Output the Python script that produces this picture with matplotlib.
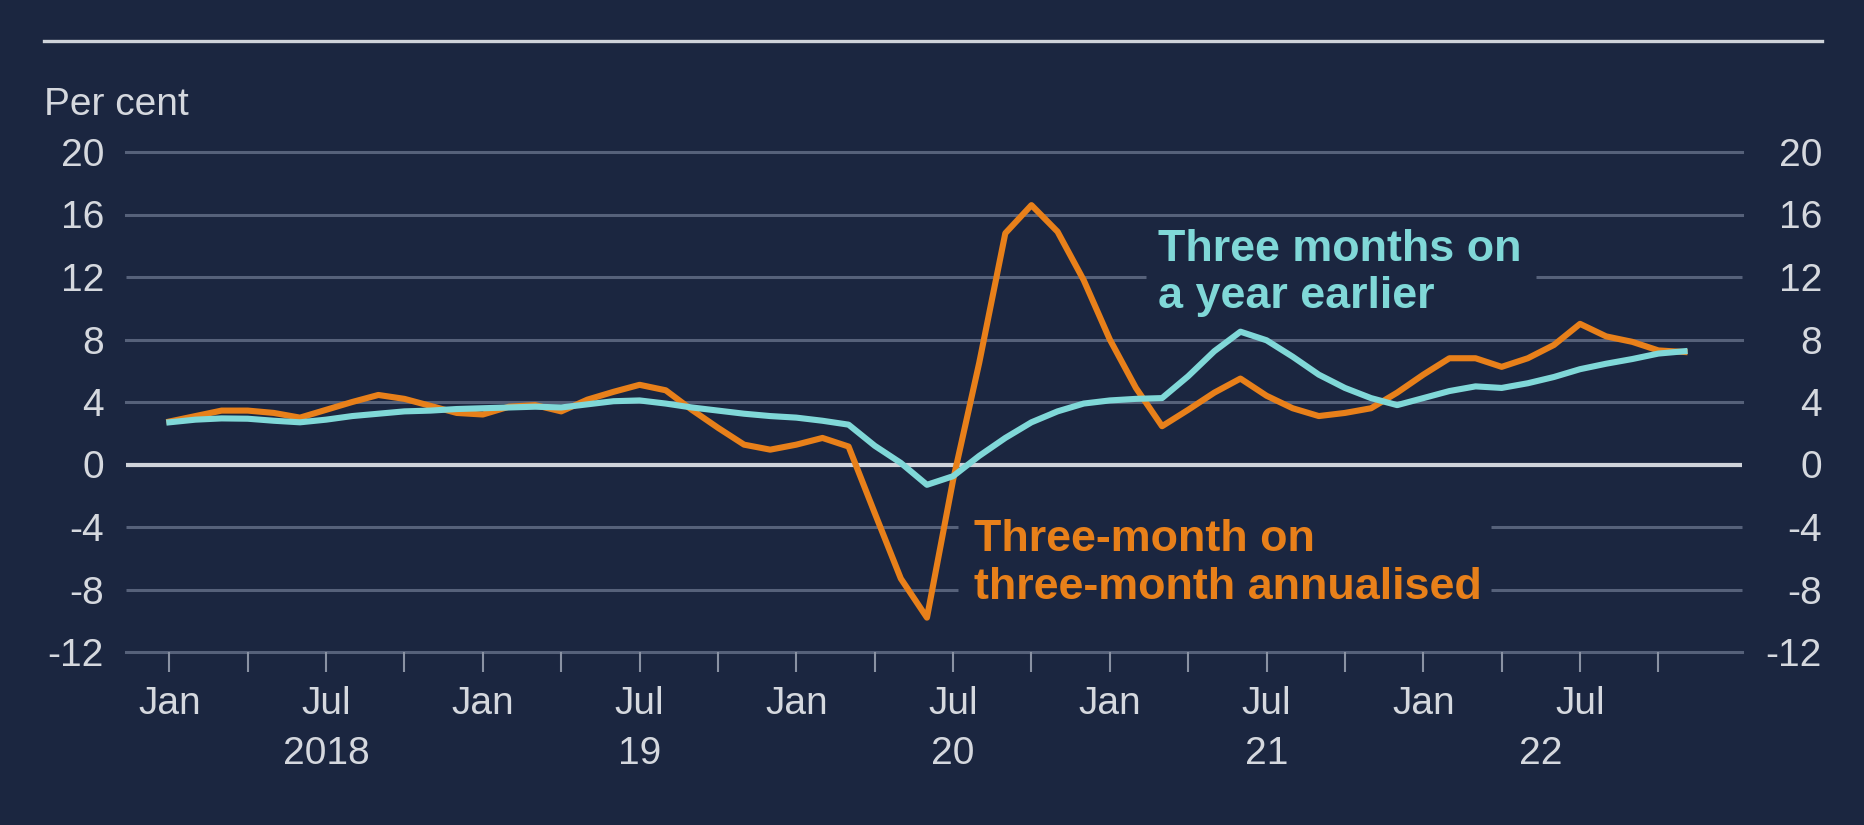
import matplotlib.pyplot as plt
from matplotlib.lines import Line2D
import numpy as np

plt.rcParams['font.family'] = ['Liberation Sans', 'DejaVu Sans']

# monthly data, Jan 2018 - Nov 2022
three_on_three = [2.75, 3.1, 3.45, 3.45, 3.3, 3.0, 3.5, 4.0, 4.45, 4.2, 3.75, 3.3,
                  3.2, 3.7, 3.8, 3.4, 4.15, 4.65, 5.1, 4.75, 3.5, 2.35, 1.27, 0.95,
                  1.27, 1.7, 1.15, -3.1, -7.3, -9.8, -1.0, 6.5, 14.8, 16.6, 14.9, 11.8,
                  8.0, 4.9, 2.45, 3.5, 4.6, 5.5, 4.4, 3.6, 3.1, 3.3, 3.6, 4.6,
                  5.75, 6.8, 6.8, 6.25, 6.8, 7.65, 9.0, 8.2, 7.85, 7.3, 7.2]
three_on_year = [2.7, 2.87, 2.95, 2.93, 2.8, 2.7, 2.87, 3.1, 3.25, 3.4, 3.45, 3.55,
                 3.6, 3.65, 3.7, 3.65, 3.85, 4.05, 4.1, 3.9, 3.65, 3.45, 3.25, 3.1,
                 3.0, 2.8, 2.55, 1.2, 0.1, -1.3, -0.75, 0.55, 1.7, 2.7, 3.4, 3.9,
                 4.1, 4.2, 4.25, 5.65, 7.25, 8.5, 7.95, 6.9, 5.75, 4.9, 4.25, 3.8,
                 4.25, 4.7, 5.0, 4.9, 5.2, 5.6, 6.1, 6.45, 6.75, 7.1, 7.25]
months = np.arange(len(three_on_three))

tick_months = list(range(0, 58, 3))
month_labels = ['Jan', '', 'Jul', ''] * 5
year_labels = ['2018', '19', '20', '21', '22']
year_pos = [6, 18, 30, 42, 52.5]
yticks = [-12, -8, -4, 0, 4, 8, 12, 16, 20]

bg = '#1b2640'
fg = '#d5d8de'
grid_col = '#56617a'
orange = '#e8801a'
cyan = '#80d8d8'

W, H = 1865, 825
XMIN, XMAX = -1.66, 60.2
fig = plt.figure(figsize=(W / 100, H / 100), dpi=100, facecolor=bg)
ax = fig.add_axes([126 / W, 1 - 652 / H, 1616 / W, 500 / H])
ax.set_facecolor(bg)
ax.set_xlim(XMIN, XMAX)
ax.set_ylim(-12, 20)
for s in ax.spines.values():
    s.set_visible(False)

# gridlines, broken where the labels sit
gaps = {12: (37.4, 52.3), -4: (30.2, 50.6), -8: (30.2, 50.6)}
for v in yticks:
    if v == 0:
        continue
    if v in gaps:
        a, b = gaps[v]
        ax.hlines([v, v], [XMIN, b], [a, XMAX], color=grid_col, lw=2.2, zorder=1, clip_on=False)
    else:
        ax.axhline(v, color=grid_col, lw=2.2, zorder=1, clip_on=False)
ax.axhline(0, color='#cfd3da', lw=3, zorder=1.5)

ax.plot(months, three_on_three, color=orange, lw=4.4, zorder=4)
ax.plot(months, three_on_year, color=cyan, lw=4.4, zorder=5)

# x axis
ax.set_xticks(tick_months)
ax.tick_params(axis='x', length=14.4, width=1.5, color='#8a92a3', labelbottom=False)
tr = ax.get_xaxis_transform()
for m, lab in zip(tick_months, month_labels):
    if lab:
        ax.text(m, -0.1234, lab, transform=tr, ha='center', va='baseline',
                fontsize=28, color=fg)
for p, lab in zip(year_pos, year_labels):
    ax.text(p, -0.2234, lab, transform=tr, ha='center', va='baseline',
            fontsize=28, color=fg)

# y axes (left and right)
ax.set_yticks(yticks)
ax.set_yticklabels([str(v) for v in yticks])
ax.tick_params(axis='y', length=0, pad=15.8, labelsize=28, labelcolor=fg)

ax2 = ax.twinx()
ax2.set_ylim(-12, 20)
ax2.set_yticks(yticks)
ax2.set_yticklabels([str(v) for v in yticks])
ax2.tick_params(axis='y', length=0, pad=57.6, labelsize=28, labelcolor=fg)
for lab in ax2.get_yticklabels():
    lab.set_horizontalalignment('right')
for s in ax2.spines.values():
    s.set_visible(False)
ax2.patch.set_visible(False)

# annotations (baseline refers to the last line)
fig.text(1158 / W, 1 - 308 / H, 'Three months on\na year earlier', color=cyan,
         fontsize=32.3, fontweight='bold', va='baseline', ha='left',
         linespacing=1.2, zorder=3)
fig.text(974 / W, 1 - 598.7 / H, 'Three-month on\nthree-month annualised', color=orange,
         fontsize=32.3, fontweight='bold', va='baseline', ha='left',
         linespacing=1.2, zorder=3)

# top rule and unit label
fig.add_artist(Line2D([44 / W, 1822 / W], [1 - 40.7 / H] * 2, color='#cfd3da', lw=2.4))
fig.text(44 / W, 1 - 115 / H, 'Per cent', fontsize=28, color=fg, ha='left', va='baseline')

fig.savefig('out.png', dpi=100, facecolor=bg)
